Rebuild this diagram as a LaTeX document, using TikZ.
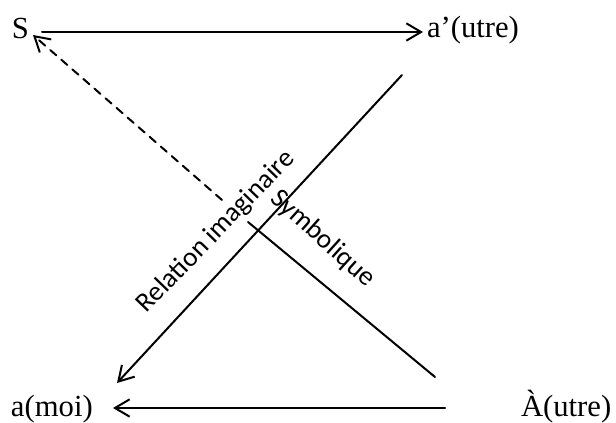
\documentclass[tikz,border=0pt]{standalone}
\usepackage{fontspec}
\setmainfont{Liberation Serif}
\newfontfamily\relfont{Carlito}
\usetikzlibrary{arrows.meta}

\begin{document}
\begin{tikzpicture}[x=0.75pt, y=-0.75pt, line width=1.5pt, line cap=round,
  place/.style={font=\fontsize{23}{27}\selectfont, inner sep=0pt, anchor=base west},
  rel/.style={font=\relfont\fontsize{20.5}{24}\selectfont, inner sep=0pt},
  barb/.style={-{Straight Barb[length=11pt, width=13pt, line width=1.5pt]}}]
\useasboundingbox (0,0) rectangle (616,423);

% ---------- the four places ----------
\node[place] (S) at (11,39) {S};
\node[place] (autre) at (426,38) {a’(utre)};
\node[place] (moi) at (10,416) {a(moi)};
\node[place] (Autre) at (520,416) {À(utre)};

% ---------- line ends ----------
\coordinate (s0) at (42,32);    \coordinate (s1) at (423,32);
\coordinate (i0) at (402,75);   \coordinate (i1) at (117,383);
\coordinate (b0) at (445,408);  \coordinate (b1) at (113,408);
\coordinate (A0) at (435,377);  \coordinate (A1) at (248,222);
\coordinate (d0) at (222,200);  \coordinate (d1) at (33,35);

\draw[barb] (s0) -- (s1);
\draw[barb] (i0) -- (i1);
\draw[barb] (b0) -- (b1);
\draw (A0) -- (A1);
\draw[barb, dash pattern=on 6pt off 5pt] (d0) -- (d1);

% ---------- relation labels ----------
\node[rel, rotate=46] (imag) at (216,232) {Relation imaginaire};
\node[rel, rotate=-42] (symb) at (323,239) {Symbolique};

\end{tikzpicture}
\end{document}
